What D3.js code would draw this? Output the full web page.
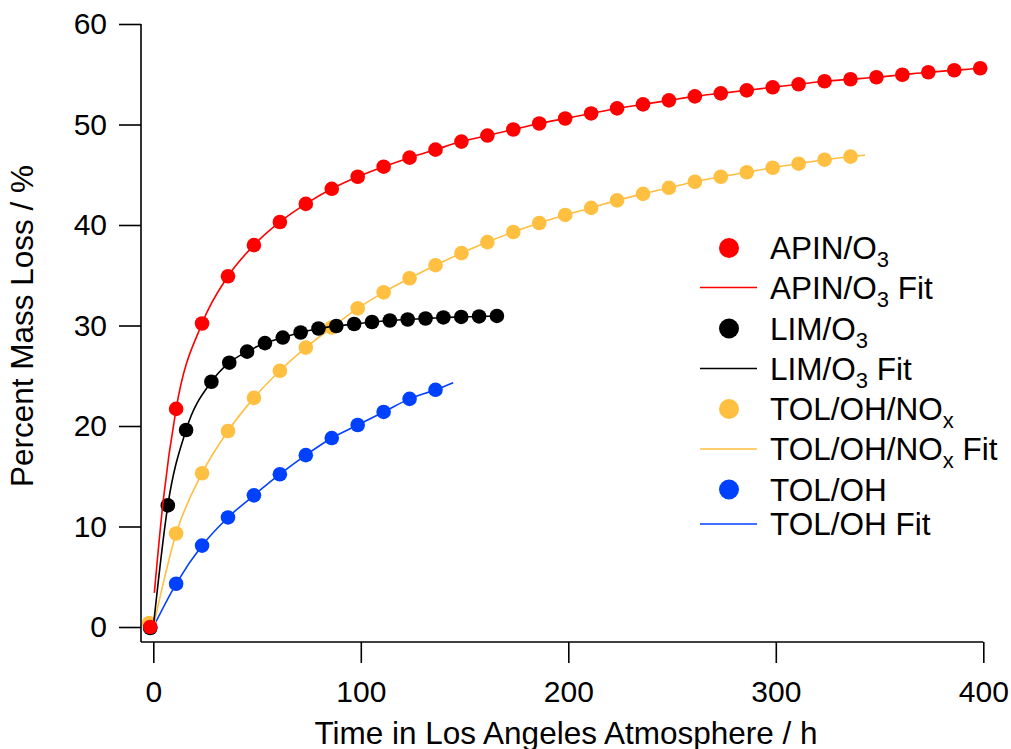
<!DOCTYPE html>
<html>
<head>
<meta charset="utf-8">
<script src="https://cdn.jsdelivr.net/npm/d3@7"></script>
<style>
  html, body { margin: 0; padding: 0; background: #fff; }
  svg { display: block; }
  text { font-family: Arial, "Liberation Sans", sans-serif; fill: #000; }
</style>
</head>
<body>
<svg id="chart" width="1011" height="749"></svg>
<script>
// ---------------- DATA ----------------
const xTicks = [0, 100, 200, 300, 400];
const yTicks = [0, 10, 20, 30, 40, 50, 60];

// APIN/O3
const apinX = [-1.5, 11, 23.5, 36, 48.5, 61, 73.5, 86, 98.5, 111, 123.5, 136, 148.5, 161, 173.5, 186,
  198.5, 211, 223.5, 236, 248.5, 261, 273.5, 286, 298.5, 311, 323.5, 336, 348.5, 361, 373.5, 386, 398.5];
const apinY = [0, 21.7, 30.2, 34.9, 38.0, 40.3, 42.1, 43.6, 44.8, 45.8, 46.7, 47.5, 48.3, 48.9, 49.5, 50.1,
  50.6, 51.1, 51.6, 52.0, 52.4, 52.8, 53.1, 53.4, 53.7, 54.0, 54.3, 54.5, 54.7, 54.95, 55.2, 55.4, 55.6];
const apinFitX = [0.5, 4.8, 11, 23.5, 36, 48.5, 61, 73.5, 86, 98.5, 111, 123.5, 136, 148.5, 161, 173.5, 186,
  198.5, 211, 223.5, 236, 248.5, 261, 273.5, 286, 298.5, 311, 323.5, 336, 348.5, 361, 373.5, 386, 398.5, 401];
const apinFitY = [3.4, 12.6, 21.7, 30.2, 34.9, 38.0, 40.3, 42.1, 43.6, 44.8, 45.8, 46.7, 47.5, 48.3, 48.9, 49.5, 50.1,
  50.6, 51.1, 51.6, 52.0, 52.4, 52.8, 53.1, 53.4, 53.7, 54.0, 54.3, 54.5, 54.7, 54.95, 55.2, 55.4, 55.6, 55.65];

// LIM/O3
const limX = [-1.5, 7, 15.8, 28, 36.6, 45.2, 53.8, 62.4, 71, 79.6, 88.2, 96.8, 105.4, 114, 122.6, 131.2, 139.8, 148.4, 157, 165.6];
const limY = [-0.1, 12.1, 19.6, 24.4, 26.3, 27.4, 28.25, 28.8, 29.3, 29.7, 29.95, 30.15, 30.35, 30.5, 30.6, 30.7, 30.8, 30.85, 30.9, 30.95];
const limFitX = [0, 7, 15.8, 28, 36.6, 45.2, 53.8, 62.4, 71, 79.6, 88.2, 96.8, 105.4, 114, 122.6, 131.2, 139.8, 148.4, 157, 165.6, 169];
const limFitY = [0, 12.1, 19.6, 24.4, 26.3, 27.4, 28.25, 28.8, 29.3, 29.7, 29.95, 30.15, 30.35, 30.5, 30.6, 30.7, 30.8, 30.85, 30.9, 30.95, 30.97];

// TOL/OH/NOx
const tolnoxX = [-2, 11, 23.5, 36, 48.5, 61, 73.5, 86, 98.5, 111, 123.5, 136, 148.5, 161, 173.5, 186,
  198.5, 211, 223.5, 236, 248.5, 261, 273.5, 286, 298.5, 311, 323.5, 336];
const tolnoxY = [0.4, 9.3, 15.3, 19.5, 22.8, 25.5, 27.8, 29.8, 31.7, 33.3, 34.7, 36.0, 37.2, 38.3, 39.3, 40.2,
  41.0, 41.7, 42.45, 43.1, 43.7, 44.3, 44.8, 45.25, 45.7, 46.1, 46.5, 46.8];
const tolnoxFitX = [0, 11, 23.5, 36, 48.5, 61, 73.5, 86, 98.5, 111, 123.5, 136, 148.5, 161, 173.5, 186,
  198.5, 211, 223.5, 236, 248.5, 261, 273.5, 286, 298.5, 311, 323.5, 336, 343];
const tolnoxFitY = [0, 9.3, 15.3, 19.5, 22.8, 25.5, 27.8, 29.8, 31.7, 33.3, 34.7, 36.0, 37.2, 38.3, 39.3, 40.2,
  41.0, 41.7, 42.45, 43.1, 43.7, 44.3, 44.8, 45.25, 45.7, 46.1, 46.5, 46.8, 46.95];

// TOL/OH
const tolX = [-1.5, 11, 23.5, 36, 48.5, 61, 73.5, 86, 98.5, 111, 123.5, 136];
const tolY = [0, 4.3, 8.1, 10.9, 13.1, 15.2, 17.1, 18.8, 20.1, 21.4, 22.7, 23.6];
const tolFitX = [0, 11, 23.5, 36, 48.5, 61, 73.5, 86, 98.5, 111, 123.5, 136, 144.5];
const tolFitY = [0, 4.3, 8.1, 10.9, 13.1, 15.2, 17.1, 18.8, 20.1, 21.4, 22.7, 23.6, 24.3];

const colors = { apin: "#ff0000", lim: "#000000", tolnox: "#ffbf40", tol: "#0040ff" };

// ---------------- CHART ----------------
const svg = d3.select("#chart");
const x = d3.scaleLinear().domain([0, 400]).range([153.3, 983.3]);
const y = d3.scaleLinear().domain([0, 60]).range([627, 24]);

const axisX = 141, axisY = 642;

// axes lines
svg.append("line").attr("x1", axisX).attr("x2", axisX).attr("y1", y(60)).attr("y2", axisY)
  .attr("stroke", "#000").attr("stroke-width", 1.6);
svg.append("line").attr("x1", axisX).attr("x2", x(400)).attr("y1", axisY).attr("y2", axisY)
  .attr("stroke", "#000").attr("stroke-width", 1.6);

const gy = svg.append("g").attr("transform", `translate(${axisX},0)`)
  .call(d3.axisLeft(y).tickValues(yTicks).tickSize(22).tickPadding(12).tickFormat(d3.format("d")));
gy.select(".domain").remove();
gy.selectAll(".tick line").attr("stroke", "#000").attr("stroke-width", 1.6);
gy.selectAll(".tick text").style("font-size", "30px").attr("font-family", null);

const gx = svg.append("g").attr("transform", `translate(0,${axisY})`)
  .call(d3.axisBottom(x).tickValues(xTicks).tickSize(21).tickPadding(18).tickFormat(d3.format("d")));
gx.select(".domain").remove();
gx.selectAll(".tick line").attr("stroke", "#000").attr("stroke-width", 1.6);
gx.selectAll(".tick text").style("font-size", "30px").attr("font-family", null);

// axis titles
svg.append("text").attr("x", 566).attr("y", 744).attr("text-anchor", "middle")
  .style("font-size", "31.5px").text("Time in Los Angeles Atmosphere / h");
svg.append("text").attr("transform", "rotate(-90)").attr("x", -326).attr("y", 33)
  .attr("text-anchor", "middle").style("font-size", "31.5px").text("Percent Mass Loss / %");

// series
const line = d3.line().x(d => x(d[0])).y(d => y(d[1])).curve(d3.curveMonotoneX);
const series = [
  { key: "tol", xs: tolX, ys: tolY, fx: tolFitX, fy: tolFitY },
  { key: "tolnox", xs: tolnoxX, ys: tolnoxY, fx: tolnoxFitX, fy: tolnoxFitY },
  { key: "lim", xs: limX, ys: limY, fx: limFitX, fy: limFitY },
  { key: "apin", xs: apinX, ys: apinY, fx: apinFitX, fy: apinFitY }
];
series.forEach(s => {
  const g = svg.append("g");
  g.append("path").datum(d3.zip(s.fx, s.fy)).attr("d", line)
    .attr("fill", "none").attr("stroke", colors[s.key]).attr("stroke-width", 1.6);
  g.selectAll("circle").data(d3.zip(s.xs, s.ys)).join("circle")
    .attr("cx", d => x(d[0])).attr("cy", d => y(d[1])).attr("r", 7.3)
    .attr("fill", colors[s.key]);
});

// legend
const legendRows = [
  { type: "dot", key: "apin", y: 248, parts: [["APIN/O", 0], ["3", 1]] },
  { type: "line", key: "apin", y: 287.5, parts: [["APIN/O", 0], ["3", 1], [" Fit", 0]] },
  { type: "dot", key: "lim", y: 328.5, parts: [["LIM/O", 0], ["3", 1]] },
  { type: "line", key: "lim", y: 368.5, parts: [["LIM/O", 0], ["3", 1], [" Fit", 0]] },
  { type: "dot", key: "tolnox", y: 409, parts: [["TOL/OH/NO", 0], ["x", 1]] },
  { type: "line", key: "tolnox", y: 449, parts: [["TOL/OH/NO", 0], ["x", 1], [" Fit", 0]] },
  { type: "dot", key: "tol", y: 489.5, parts: [["TOL/OH", 0]] },
  { type: "line", key: "tol", y: 524, parts: [["TOL/OH Fit", 0]] }
];
const lg = svg.append("g");
legendRows.forEach(r => {
  if (r.type === "dot") {
    lg.append("circle").attr("cx", 729).attr("cy", r.y).attr("r", 10).attr("fill", colors[r.key]);
  } else {
    lg.append("line").attr("x1", 700).attr("x2", 757).attr("y1", r.y).attr("y2", r.y)
      .attr("stroke", colors[r.key]).attr("stroke-width", 1.6);
  }
  const t = lg.append("text").attr("x", 770).attr("y", r.y + 11).style("font-size", "31.5px");
  let sub = false;
  r.parts.forEach(p => {
    const ts = t.append("tspan").text(p[0]);
    if (p[1] === 1 && !sub) { ts.attr("dy", 8).style("font-size", "22px"); sub = true; }
    else if (p[1] === 0 && sub) { ts.attr("dy", -8); sub = false; }
  });
});
</script>
</body>
</html>
